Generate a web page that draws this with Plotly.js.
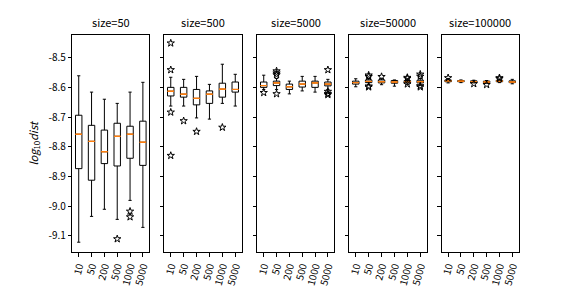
<!DOCTYPE html>
<html><head><meta charset="utf-8">
<script src="https://cdn.plot.ly/plotly-3.0.1.min.js"></script>
<style>html,body{margin:0;padding:0;background:#fff}#chart{width:576px;height:288px}</style>
</head><body><div id="chart"></div>
<script>
const categories = ['10','50','200','500','1000','5000'];
const panelSizes = ['50','500','5000','50000','100000'];

const upperWhisker = [
  [-8.560, -8.615, -8.639, -8.653, -8.615, -8.582],
  [-8.565, -8.572, -8.562, -8.589, -8.521, -8.555],
  [-8.558, -8.569, -8.578, -8.562, -8.562, -8.572],
  [-8.570, -8.569, -8.570, -8.574, -8.570, -8.569],
  [-8.569, -8.574, -8.575, -8.576, -8.571, -8.572]
];
const q3Values = [
  [-8.693, -8.727, -8.743, -8.720, -8.730, -8.713],
  [-8.599, -8.599, -8.606, -8.611, -8.585, -8.581],
  [-8.581, -8.578, -8.588, -8.578, -8.578, -8.581],
  [-8.578, -8.574, -8.574, -8.576, -8.576, -8.575],
  [-8.574, -8.576, -8.577, -8.578, -8.575, -8.577]
];
const medianValues = [
  [-8.757, -8.781, -8.816, -8.764, -8.757, -8.784],
  [-8.612, -8.622, -8.636, -8.622, -8.605, -8.606],
  [-8.593, -8.584, -8.597, -8.588, -8.584, -8.588],
  [-8.583, -8.579, -8.580, -8.581, -8.580, -8.580],
  [-8.577, -8.578, -8.580, -8.581, -8.578, -8.581]
];
const q1Values = [
  [-8.873, -8.912, -8.856, -8.864, -8.838, -8.862],
  [-8.628, -8.632, -8.658, -8.653, -8.632, -8.615],
  [-8.599, -8.593, -8.606, -8.598, -8.599, -8.594],
  [-8.588, -8.583, -8.584, -8.585, -8.584, -8.584],
  [-8.580, -8.580, -8.582, -8.583, -8.580, -8.583]
];
const lowerWhisker = [
  [-9.121, -9.034, -9.010, -9.044, -8.980, -9.071],
  [-8.662, -8.662, -8.702, -8.706, -8.653, -8.662],
  [-8.606, -8.606, -8.621, -8.611, -8.615, -8.606],
  [-8.597, -8.590, -8.590, -8.595, -8.589, -8.592],
  [-8.584, -8.583, -8.584, -8.585, -8.583, -8.587]
];
const outlierX = [
  ['500','1000','1000'],
  ['10','10','10','10','50','200','1000'],
  ['10','50','50','50','50','5000','5000','5000','5000'],
  ['50','50','50','50','200','1000','1000','1000','5000','5000','5000','5000'],
  ['10','200','500','1000','1000']
];
const outlierY = [
  [-9.110, -9.017, -9.036],
  [-8.450, -8.540, -8.683, -8.829, -8.712, -8.748, -8.734],
  [-8.617, -8.544, -8.551, -8.557, -8.621, -8.540, -8.613, -8.620, -8.624],
  [-8.558, -8.563, -8.595, -8.598, -8.563, -8.566, -8.569, -8.588, -8.555, -8.562, -8.594, -8.598],
  [-8.567, -8.587, -8.590, -8.567, -8.570]
];
const yTickVals = [-9.1, -9.0, -8.9, -8.8, -8.7, -8.6, -8.5];
const yTickText = ['-9.1', '-9.0', '-8.9', '-8.8', '-8.7', '-8.6', '-8.5'];

const FONT = '"Noto Sans CJK SC", "DejaVu Sans", sans-serif';
const W = 576, H = 288;
const pxDomains = [[72.3,149.3],[164.3,241.7],[257.3,334.3],[349.3,426.7],[441.7,518.7]];
const yDom = [1 - 252/H, 1 - 35/H];

const data = [];
const layout = {
  width: W, height: H,
  margin: {l:0, r:0, t:0, b:0},
  paper_bgcolor: '#fff', plot_bgcolor: '#fff',
  showlegend: false,
  boxmode: 'overlay',
  font: {family: FONT, size: 10, color: '#000'},
  annotations: []
};

for (let p = 0; p < panelSizes.length; p++) {
  const sfx = p === 0 ? '' : String(p + 1);
  const xa = 'x' + sfx, ya = 'y' + sfx;
  data.push({
    type: 'box', xaxis: xa, yaxis: ya,
    x: categories,
    q1: q1Values[p], median: medianValues[p], q3: q3Values[p],
    lowerfence: lowerWhisker[p], upperfence: upperWhisker[p],
    boxpoints: false, width: 0.5, whiskerwidth: 0.5,
    line: {color: '#000', width: 1}, fillcolor: 'rgba(0,0,0,0)',
    hoverinfo: 'skip'
  });
  data.push({
    type: 'box', xaxis: xa, yaxis: ya,
    x: categories,
    q1: medianValues[p], median: medianValues[p], q3: medianValues[p],
    lowerfence: medianValues[p], upperfence: medianValues[p],
    boxpoints: false, width: 0.5, whiskerwidth: 0,
    line: {color: '#ff7f0e', width: 1}, fillcolor: 'rgba(0,0,0,0)',
    hoverinfo: 'skip'
  });
  data.push({
    type: 'scatter', mode: 'markers', xaxis: xa, yaxis: ya,
    x: outlierX[p], y: outlierY[p],
    marker: {symbol: 'star-open', size: 5.5, color: '#000', line: {width: 1, color: '#000'}},
    hoverinfo: 'skip'
  });
  const d = pxDomains[p];
  layout['xaxis' + sfx] = {
    domain: [d[0]/W, d[1]/W], anchor: ya,
    type: 'category', categoryorder: 'array', categoryarray: categories,
    range: [-0.5, 5.5],
    showline: true, mirror: true, linecolor: '#000', linewidth: 1,
    ticks: 'outside', ticklen: 3.5, tickcolor: '#000', tickwidth: 1,
    tickangle: -75, tickfont: {family: FONT, size: 10, color: '#000'},
    showgrid: false, zeroline: false, fixedrange: true
  };
  layout['yaxis' + sfx] = {
    domain: yDom, anchor: xa,
    range: [-9.154, -8.4225],
    tickvals: yTickVals, ticktext: yTickText,
    showticklabels: p === 0,
    showline: true, mirror: true, linecolor: '#000', linewidth: 1,
    ticks: 'outside', ticklen: 3.5, tickcolor: '#000', tickwidth: 1,
    tickfont: {family: FONT, size: 10, color: '#000'},
    showgrid: false, zeroline: false, fixedrange: true
  };
  if (p > 0) layout['yaxis' + sfx].matches = 'y';
  layout.annotations.push({
    xref: 'paper', yref: 'paper',
    x: (d[0] + d[1]) / 2 / W, y: yDom[1],
    xanchor: 'center', yanchor: 'bottom', yshift: 3,
    text: 'size=' + panelSizes[p], showarrow: false,
    font: {family: FONT, size: 11, color: '#000'}
  });
}
layout.annotations.push({
  xref: 'paper', yref: 'paper',
  x: 33/W, y: (yDom[0] + yDom[1]) / 2,
  xanchor: 'center', yanchor: 'middle', textangle: -90,
  text: '<i>log</i><sub>10</sub><i>dist</i>', showarrow: false,
  font: {family: FONT, size: 11, color: '#000'}
});

Plotly.newPlot('chart', data, layout, {staticPlot: true, displayModeBar: false});
</script>
</body></html>
